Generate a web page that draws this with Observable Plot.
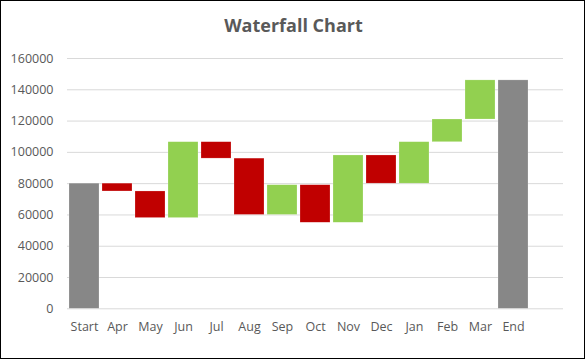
<!DOCTYPE html>
<html>
<head>
<meta charset="utf-8">
<script src="https://cdn.jsdelivr.net/npm/d3@7"></script>
<script src="https://cdn.jsdelivr.net/npm/@observablehq/plot@0.6"></script>
<style>
  body { margin: 0; background: #fff; }
  #wrap { position: relative; width: 587px; height: 361px; overflow: hidden; }
  #border { position: absolute; left: 0; top: 0; width: 583px; height: 357px; border: 1px solid #000; pointer-events: none; }
  #title { height: 40px; line-height: 50px; text-align: center; font-family: "Open Sans", sans-serif; font-weight: bold; font-size: 18px; color: #595959; }
  #chart svg { display: block; }
</style>
</head>
<body>
<div id="wrap">
  <div id="title">Waterfall Chart</div>
  <div id="chart"></div>
  <div id="border"></div>
</div>
<script>
const categories = ["Start", "Apr", "May", "Jun", "Jul", "Aug", "Sep", "Oct", "Nov", "Dec", "Jan", "Feb", "Mar", "End"];
const changes = [80000, -5000, -17000, 48500, -10500, -36000, 19000, -24000, 43000, -18000, 26500, 14500, 25000, 0];
const kinds = ["total", "change", "change", "change", "change", "change", "change", "change", "change", "change", "change", "change", "change", "total"];
const yTicks = [0, 20000, 40000, 60000, 80000, 100000, 120000, 140000, 160000];

let running = 0;
const rows = categories.map((c, i) => {
  let y1, y2, type;
  if (kinds[i] === "total") {
    running += changes[i];
    y1 = 0; y2 = running; type = "total";
  } else {
    y1 = running; running += changes[i]; y2 = running;
    type = changes[i] >= 0 ? "up" : "down";
  }
  return {cat: c, y1, y2, type};
});

const chart = Plot.plot({
  width: 587,
  height: 321,
  marginLeft: 67,
  marginRight: 24,
  marginTop: 18,
  marginBottom: 52.7,
  style: {fontFamily: "'Open Sans', sans-serif", fontSize: "12.5px", color: "#595959", background: "transparent"},
  x: {domain: [...categories, "__pad"], padding: 0.1, paddingOuter: 0.05, label: null},
  y: {domain: [0, 160000], label: null},
  color: {domain: ["total", "up", "down"], range: ["#878787", "#92D050", "#C00000"]},
  marks: [
    Plot.ruleY(yTicks, {stroke: "#d9d9d9", strokeWidth: 1}),
    Plot.barY(rows, {x: "cat", y1: "y1", y2: "y2", fill: "type", stroke: "#ffffff", strokeOpacity: 0.4, strokeWidth: 0.5}),
    Plot.axisY({ticks: yTicks, tickSize: 0, tickPadding: 14, tickFormat: d3.format("d"), label: null, fill: "#595959"}),
    Plot.axisX({ticks: categories, tickSize: 0, tickPadding: 13, label: null, fill: "#595959"})
  ]
});
document.getElementById("chart").appendChild(chart);
</script>
</body>
</html>
